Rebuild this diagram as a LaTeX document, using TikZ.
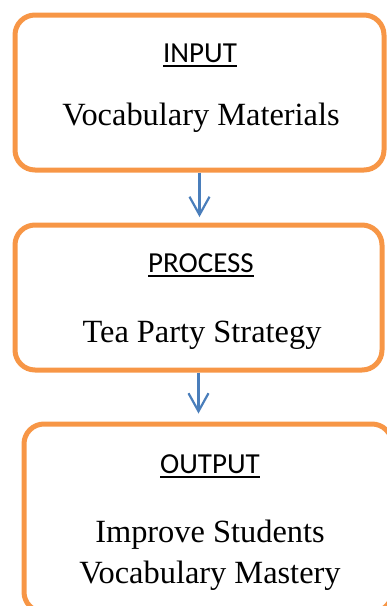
\documentclass[tikz,border=0pt]{standalone}
\usepackage{fontspec}
\usepackage{xcolor}
\usepackage{tikz}
\setmainfont{Liberation Serif}
\setsansfont{Carlito}
\usetikzlibrary{arrows.meta}

\definecolor{boxorange}{HTML}{F79646}
\definecolor{arrowblue}{HTML}{4A7EBB}

% heading with a thick underline
\newcommand{\ulhead}[1]{\setbox0=\hbox{#1}\rlap{\vrule height -3.2pt depth 5.3pt width \wd0}\box0}

\tikzset{
  stagebox/.style={draw=boxorange, line width=5pt, rounded corners=20pt, inner sep=0pt},
  headtext/.style={font=\sffamily\fontsize{29}{35}\selectfont, anchor=base, inner sep=0pt},
  bodytext/.style={font=\fontsize{32.4}{41}\selectfont, inner sep=0pt, align=center},
  flow/.style={draw=arrowblue, line width=2.2pt, -{Straight Barb[length=18pt,width=20pt]}}
}

\begin{document}
\begin{tikzpicture}[x=1pt,y=-1pt]
        \useasboundingbox (0,0) rectangle (387,606);
        \node[stagebox, minimum width=369pt, minimum height=155pt] (input) at (199.5,92.5) {};
        \node[stagebox, minimum width=367pt, minimum height=145pt] (process) at (198.5,297.5) {};
        \node[stagebox, minimum width=368pt, minimum height=188pt] (output) at (208,518) {};
        \node[headtext] (inputhead) at (200,62) {\ulhead{INPUT}};
        \node[bodytext, anchor=base] (inputtext) at (201,125) {Vocabulary Materials};
        \node[headtext] (processhead) at (201,272) {\ulhead{PROCESS}};
        \node[bodytext, anchor=base] (processtext) at (202,342) {Tea Party Strategy};
        \node[headtext] (outputhead) at (210,473) {\ulhead{OUTPUT}};
        \node[bodytext, anchor=north] (outputtext) at (210,520) {Improve Students\\Vocabulary Mastery};
        \draw[flow, shorten >=5.5pt] (input.south) -- (input.south |- process.north);
        \draw[flow, shorten >=8pt] (process.south) -- (process.south |- output.north);
      \end{tikzpicture}
\end{document}
